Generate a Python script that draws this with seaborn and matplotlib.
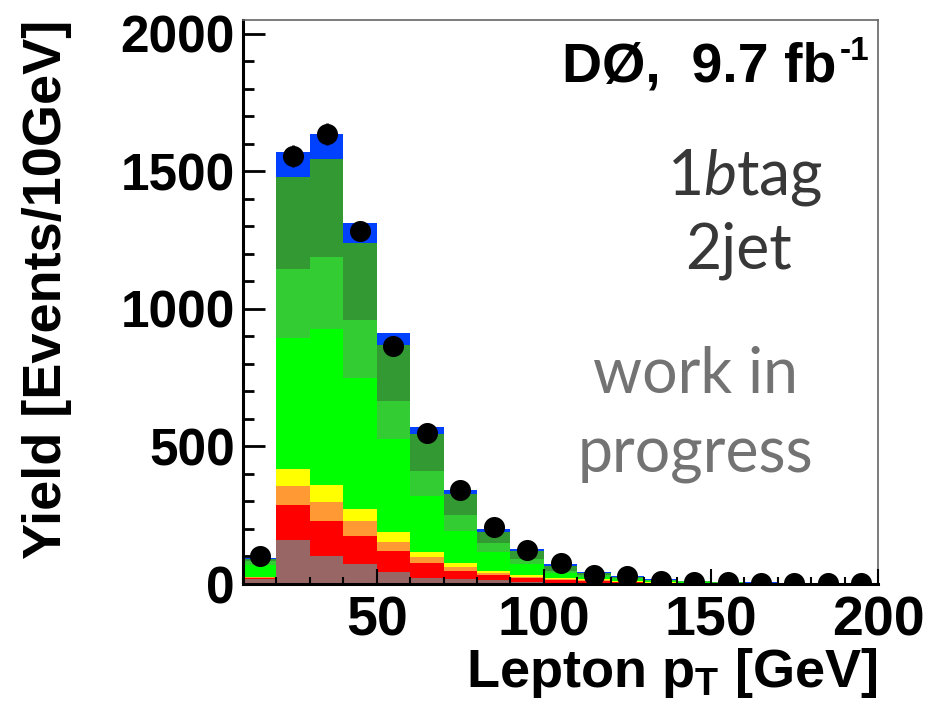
import numpy as np
import pandas as pd
import matplotlib
matplotlib.use("Agg")
import matplotlib.pyplot as plt
from matplotlib.ticker import MultipleLocator
import seaborn as sns

# Lepton pT binning: 10 GeV bins from 10 to 200 GeV
bin_edges = np.arange(10, 210, 10)
bin_centers = bin_edges[:-1] + 5

# Expected yields per process (events / 10 GeV), bottom of the stack first
multijet   = [18, 160, 103, 74, 45, 23, 17, 15, 8, 4, 3, 2, 1, 1, 0.5, 0.4, 0.3, 0.3, 0.2]
ttbar      = [4, 127, 127, 102, 74, 52, 31, 18, 14, 11, 7, 4, 3, 2, 1.5, 1.1, 0.9, 0.7, 0.6]
single_top = [2, 69, 69, 53, 33, 22, 15, 8, 5, 3, 3, 2, 1, 1, 0.5, 0.5, 0.3, 0.2, 0.2]
diboson    = [3, 61, 61, 44, 36, 21, 15, 7, 6, 3, 4, 2, 1, 0.5, 0.5, 0.3, 0.2, 0.2, 0.1]
w_light    = [42, 476, 566, 475, 338, 203, 116, 70, 39, 18, 10, 7, 4, 3, 2, 1.2, 0.9, 0.6, 0.5]
w_cc       = [16, 251, 264, 210, 139, 91, 57, 30, 18, 8, 6, 4, 3, 2, 1, 0.8, 0.6, 0.5, 0.4]
w_bb       = [5, 335, 355, 283, 205, 133, 76, 42, 31, 20, 8, 5, 3, 2, 1.5, 1, 0.8, 0.6, 0.4]
z_jets     = [3, 93, 91, 71, 42, 24, 15, 10, 6, 6, 4, 3, 1, 1, 0.5, 0.5, 0.4, 0.3, 0.3]

# Observed data counts
data_counts = [102, 1555, 1635, 1284, 865, 548, 343, 206, 125, 77, 33, 29, 12, 9, 6, 5, 5, 5, 4]

processes = {
    "multijet": (multijet, "#996666"),
    "ttbar": (ttbar, "#ff0000"),
    "single top": (single_top, "#ff9933"),
    "diboson": (diboson, "#ffff00"),
    "W+lf": (w_light, "#00ff00"),
    "W+cc": (w_cc, "#33cc33"),
    "W+bb": (w_bb, "#339933"),
    "Z+jets": (z_jets, "#0040ff"),
}

rows = []
for name, (vals, _) in processes.items():
    for c, v in zip(bin_centers, vals):
        rows.append({"pt": float(c), "yield": float(v), "process": name})
df = pd.DataFrame(rows)

# seaborn stacks the last hue level at the bottom
hue_order = list(processes.keys())[::-1]
palette = {k: col for k, (_, col) in processes.items()}

sns.set_style("white")
plt.rcParams.update({
    "font.family": ["Liberation Sans", "DejaVu Sans"],
    "text.color": "black",
    "axes.labelcolor": "black",
    "xtick.color": "black",
    "ytick.color": "black",
    "mathtext.fontset": "custom",
    "mathtext.bf": "Liberation Sans:bold",
    "mathtext.rm": "Liberation Sans:bold",
    "mathtext.it": "Lato:italic",
})

fig = plt.figure(figsize=(9.3, 7.09), dpi=100)
ax = fig.add_axes([0.2613, 0.1763, 0.6828, 0.7955])

sns.histplot(data=df, x="pt", weights="yield", hue="process", hue_order=hue_order,
             multiple="stack", binwidth=10, binrange=(10, 200), palette=palette,
             alpha=1, linewidth=0, legend=False, ax=ax)

# Data with Poisson uncertainties
data_counts = np.asarray(data_counts, dtype=float)
ax.errorbar(bin_centers, data_counts, yerr=np.sqrt(data_counts), fmt="none",
            ecolor="black", elinewidth=2, capsize=0, zorder=5)
sns.scatterplot(x=bin_centers, y=data_counts, color="black", s=230,
                linewidth=0, zorder=6, ax=ax)

ax.set_xlim(10, 200)
ax.set_ylim(0, 2050)
ax.set_xticks([50, 100, 150, 200])
ax.set_yticks([0, 500, 1000, 1500, 2000])
ax.xaxis.set_minor_locator(MultipleLocator(10))
ax.yaxis.set_minor_locator(MultipleLocator(100))
ax.set_axisbelow(False)

ax.tick_params(axis="y", which="major", direction="in", length=16, width=2,
               labelsize=37, pad=6, left=True)
ax.tick_params(axis="y", which="minor", direction="in", length=8, width=2, left=True)
ax.tick_params(axis="x", which="major", direction="in", length=11, width=1.5,
               labelsize=40, pad=8, bottom=True)
ax.tick_params(axis="x", which="minor", direction="in", length=5, width=1.5, bottom=True)
for lab in ax.get_xticklabels() + ax.get_yticklabels():
    lab.set_fontweight("bold")

for side in ("left", "bottom"):
    ax.spines[side].set_color("black")
    ax.spines[side].set_linewidth(2.2)
for side in ("top", "right"):
    ax.spines[side].set_color("#666666")
    ax.spines[side].set_linewidth(1.2)

ax.set_xlabel(r"Lepton p$_{\mathbf{T}}$ [GeV]", fontsize=39, fontweight="bold", loc="right")
ax.set_ylabel("Yield [Events/10GeV]", fontsize=39, fontweight="bold", loc="top")
ax.xaxis.set_label_coords(1.0, -0.11)
ax.yaxis.set_label_coords(-0.27, 1.0)

# Experiment and luminosity label
fig.text(836 / 930, 1 - 82 / 709, "DØ,  9.7 fb", fontsize=40, fontweight="bold",
         ha="right", va="baseline")
fig.text(840 / 930, 1 - 60 / 709, "-1", fontsize=24, fontweight="bold",
         ha="left", va="baseline")

light = dict(family=["Lato", "DejaVu Sans"], fontweight="normal", fontsize=45,
             ha="center", va="baseline")
fig.text(745 / 930, 1 - 195 / 709, r"1$\mathit{b}$tag", color="#383838", **light)
fig.text(738 / 930, 1 - 268 / 709, "2jet", color="#383838", **light)
fig.text(695 / 930, 1 - 393 / 709, "work in", color="#737373", **light)
fig.text(695 / 930, 1 - 473 / 709, "progress", color="#737373", **light)

fig.savefig("out.png", dpi=100)
